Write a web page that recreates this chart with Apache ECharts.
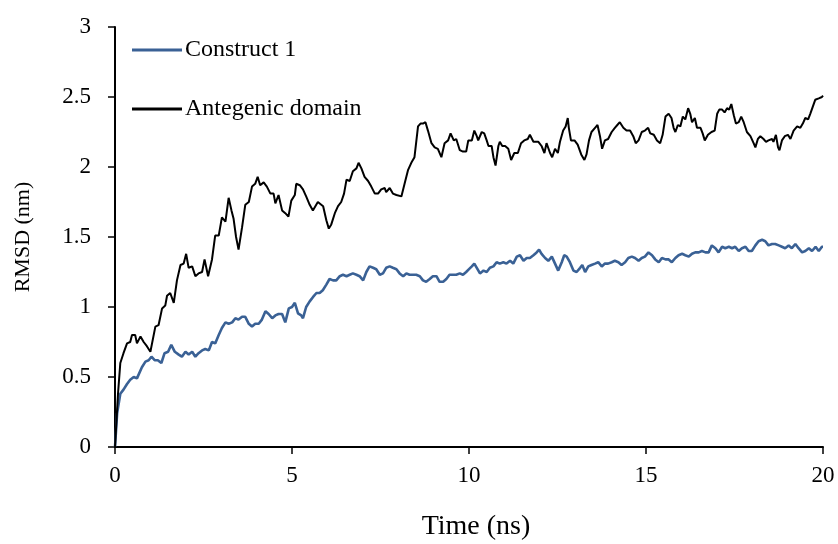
<!DOCTYPE html>
<html>
<head>
<meta charset="utf-8">
<script src="https://cdn.jsdelivr.net/npm/echarts@6/dist/echarts.min.js"></script>
<style>
html,body{margin:0;padding:0;background:#fff;}
#chart{width:838px;height:544px;}
</style>
</head>
<body>
<div id="chart"></div>
<script>
var seriesNames = ['Construct 1', 'Antegenic domain'];

var constructTime = [0,0.06,0.15,0.24,0.34,0.43,0.53,0.62,0.67,0.76,0.86,0.95,1.03,1.12,1.21,1.31,1.40,1.50,1.59,1.69,1.80,1.89,1.99,2.08,2.18,2.27,2.36,2.46,2.55,2.65,2.74,2.83,2.93,3.02,3.12,3.21,3.31,3.40,3.49,3.59,3.68,3.78,3.87,3.96,4.06,4.15,4.25,4.34,4.44,4.53,4.62,4.72,4.81,4.91,5.00,5.08,5.17,5.26,5.31,5.40,5.50,5.59,5.69,5.78,5.87,5.97,6.06,6.16,6.25,6.35,6.44,6.54,6.63,6.72,6.82,6.91,7.01,7.10,7.19,7.29,7.38,7.48,7.57,7.66,7.76,7.85,7.95,8.04,8.14,8.23,8.32,8.42,8.51,8.61,8.70,8.79,8.89,8.98,9.08,9.17,9.27,9.36,9.45,9.55,9.64,9.74,9.83,9.92,10.00,10.08,10.15,10.22,10.31,10.41,10.50,10.59,10.69,10.78,10.87,10.97,11.06,11.16,11.25,11.35,11.44,11.54,11.63,11.72,11.82,11.91,11.98,12.05,12.15,12.24,12.34,12.43,12.52,12.62,12.69,12.76,12.85,12.95,13.04,13.14,13.20,13.28,13.37,13.46,13.56,13.65,13.75,13.84,13.93,14.03,14.12,14.22,14.31,14.41,14.50,14.60,14.69,14.79,14.88,14.97,15.07,15.17,15.26,15.36,15.45,15.55,15.64,15.73,15.83,15.92,16.02,16.11,16.21,16.30,16.39,16.49,16.58,16.68,16.77,16.86,16.96,17.05,17.15,17.24,17.34,17.43,17.52,17.62,17.71,17.81,17.90,17.99,18.09,18.18,18.28,18.37,18.46,18.56,18.65,18.75,18.84,18.93,19.03,19.12,19.22,19.31,19.41,19.50,19.60,19.69,19.79,19.88,19.97,20.00];
var constructRmsd = [0,0.24,0.38,0.41,0.45,0.48,0.50,0.49,0.50,0.57,0.61,0.62,0.645,0.62,0.62,0.60,0.67,0.68,0.73,0.68,0.66,0.645,0.68,0.66,0.68,0.645,0.67,0.69,0.70,0.69,0.75,0.74,0.80,0.85,0.89,0.88,0.89,0.92,0.91,0.93,0.93,0.88,0.86,0.88,0.88,0.91,0.97,0.95,0.92,0.94,0.95,0.95,0.89,0.99,1.00,1.03,0.955,0.94,0.92,1.00,1.04,1.07,1.10,1.10,1.12,1.16,1.20,1.19,1.19,1.22,1.23,1.22,1.23,1.24,1.23,1.22,1.19,1.25,1.29,1.28,1.27,1.23,1.24,1.28,1.29,1.28,1.27,1.24,1.22,1.24,1.23,1.23,1.23,1.22,1.19,1.18,1.20,1.22,1.22,1.18,1.18,1.20,1.23,1.23,1.23,1.24,1.23,1.25,1.27,1.29,1.31,1.28,1.24,1.26,1.25,1.28,1.29,1.32,1.31,1.32,1.31,1.33,1.31,1.36,1.37,1.33,1.35,1.35,1.37,1.39,1.41,1.38,1.35,1.33,1.36,1.31,1.26,1.32,1.37,1.36,1.32,1.26,1.25,1.28,1.30,1.25,1.29,1.30,1.31,1.32,1.29,1.31,1.31,1.32,1.33,1.32,1.30,1.32,1.35,1.36,1.35,1.33,1.35,1.36,1.39,1.37,1.34,1.32,1.35,1.34,1.34,1.32,1.35,1.37,1.38,1.37,1.36,1.38,1.39,1.39,1.40,1.39,1.39,1.44,1.42,1.39,1.43,1.42,1.43,1.42,1.43,1.40,1.42,1.43,1.40,1.40,1.44,1.47,1.48,1.47,1.44,1.45,1.45,1.44,1.43,1.42,1.44,1.42,1.45,1.42,1.39,1.40,1.42,1.40,1.43,1.40,1.43,1.43];

var antigenTime = [0,0.085,0.15,0.24,0.34,0.43,0.48,0.57,0.62,0.72,0.81,0.90,1.00,1.05,1.14,1.23,1.33,1.42,1.47,1.56,1.66,1.75,1.85,1.94,2.01,2.08,2.18,2.27,2.36,2.46,2.53,2.63,2.74,2.83,2.93,3.02,3.12,3.21,3.29,3.35,3.42,3.49,3.59,3.68,3.78,3.87,3.96,4.03,4.10,4.20,4.29,4.39,4.48,4.53,4.62,4.72,4.81,4.90,4.98,5.08,5.12,5.22,5.31,5.40,5.50,5.59,5.64,5.73,5.78,5.88,5.97,6.04,6.11,6.21,6.30,6.39,6.47,6.54,6.63,6.72,6.82,6.88,6.96,7.05,7.15,7.24,7.34,7.43,7.52,7.62,7.66,7.76,7.85,7.95,8.09,8.18,8.28,8.37,8.46,8.56,8.63,8.70,8.77,8.84,8.94,9.03,9.12,9.22,9.31,9.41,9.48,9.57,9.64,9.74,9.83,9.92,9.98,10.08,10.15,10.22,10.26,10.36,10.43,10.50,10.55,10.64,10.69,10.75,10.83,10.87,10.94,11.02,11.11,11.19,11.28,11.38,11.47,11.56,11.66,11.72,11.82,11.86,11.96,12.05,12.13,12.19,12.29,12.35,12.43,12.51,12.57,12.66,12.73,12.79,12.82,12.88,12.98,13.07,13.17,13.26,13.32,13.39,13.46,13.56,13.63,13.70,13.76,13.84,13.93,14.03,14.12,14.19,14.26,14.36,14.45,14.55,14.64,14.71,14.79,14.88,14.97,15.06,15.12,15.22,15.31,15.40,15.47,15.55,15.64,15.72,15.78,15.83,15.90,15.97,16.04,16.11,16.19,16.25,16.30,16.38,16.44,16.54,16.60,16.66,16.75,16.85,16.94,17.01,17.07,17.15,17.22,17.29,17.35,17.41,17.48,17.54,17.62,17.69,17.76,17.85,17.95,18.04,18.09,18.16,18.23,18.32,18.39,18.46,18.56,18.60,18.67,18.73,18.77,18.84,18.92,19.01,19.08,19.17,19.27,19.36,19.43,19.50,19.58,19.64,19.71,19.78,19.88,19.97,20.00];
var antigenRmsd = [0,0.38,0.60,0.67,0.74,0.75,0.80,0.80,0.74,0.79,0.75,0.72,0.68,0.67,0.86,0.87,0.99,1.01,1.08,1.10,1.03,1.19,1.30,1.31,1.38,1.28,1.29,1.22,1.24,1.25,1.34,1.22,1.34,1.51,1.51,1.64,1.61,1.78,1.69,1.63,1.50,1.41,1.57,1.73,1.75,1.86,1.88,1.93,1.87,1.89,1.86,1.81,1.81,1.74,1.80,1.69,1.67,1.645,1.76,1.80,1.88,1.87,1.84,1.79,1.73,1.69,1.68,1.75,1.76,1.72,1.62,1.56,1.59,1.67,1.72,1.75,1.81,1.91,1.90,1.97,1.99,2.03,1.99,1.93,1.90,1.86,1.81,1.81,1.84,1.85,1.82,1.85,1.81,1.80,1.79,1.88,1.98,2.03,2.07,2.29,2.31,2.31,2.32,2.26,2.17,2.14,2.13,2.07,2.17,2.19,2.24,2.19,2.20,2.12,2.11,2.11,2.19,2.19,2.26,2.22,2.19,2.25,2.24,2.19,2.15,2.15,2.07,2.01,2.15,2.18,2.15,2.15,2.13,2.05,2.10,2.10,2.17,2.19,2.20,2.23,2.18,2.17,2.18,2.15,2.10,2.17,2.10,2.07,2.13,2.10,2.18,2.26,2.29,2.35,2.28,2.19,2.19,2.16,2.09,2.05,2.09,2.19,2.25,2.28,2.30,2.22,2.13,2.19,2.20,2.25,2.28,2.30,2.32,2.28,2.26,2.26,2.22,2.17,2.19,2.25,2.26,2.28,2.24,2.23,2.19,2.17,2.23,2.36,2.38,2.35,2.28,2.25,2.30,2.29,2.36,2.34,2.42,2.38,2.32,2.35,2.28,2.28,2.24,2.19,2.23,2.25,2.26,2.38,2.41,2.41,2.39,2.42,2.41,2.45,2.37,2.31,2.32,2.36,2.32,2.25,2.22,2.17,2.14,2.20,2.22,2.20,2.18,2.19,2.20,2.18,2.23,2.14,2.12,2.19,2.22,2.23,2.20,2.26,2.29,2.28,2.31,2.35,2.34,2.38,2.43,2.48,2.49,2.50,2.51];

var xTicks = [0, 5, 10, 15, 20];
var yTicks = [0, 0.5, 1, 1.5, 2, 2.5, 3];

function pairs(xs, ys) {
  var out = [];
  for (var i = 0; i < xs.length; i++) out.push([xs[i], ys[i]]);
  return out;
}

var FONT = '"Liberation Serif", "Times New Roman", serif';
var chart = echarts.init(document.getElementById('chart'), null, {renderer: 'canvas'});
chart.setOption({
  animation: false,
  backgroundColor: '#ffffff',
  textStyle: {fontFamily: FONT, color: '#000'},
  grid: {left: 115, right: 15, top: 27, bottom: 97, containLabel: false, outerBoundsMode: 'none'},
  legend: {
    orient: 'vertical',
    left: 132,
    top: 38,
    padding: 0,
    itemWidth: 50,
    itemHeight: 3,
    itemGap: 35,
    icon: 'rect',
    textStyle: {fontFamily: FONT, fontSize: 24, color: '#000', lineHeight: 24, padding: [0, 0, 0, -2]},
    data: seriesNames
  },
  xAxis: {
    type: 'value',
    min: xTicks[0],
    max: xTicks[xTicks.length - 1],
    interval: xTicks[1] - xTicks[0],
    name: 'Time (ns)',
    nameLocation: 'middle',
    nameGap: 66,
    nameTextStyle: {fontFamily: FONT, fontSize: 28, color: '#000', padding: [0, 0, 0, 14]},
    axisLine: {show: true, lineStyle: {color: '#000', width: 2}},
    axisTick: {show: true, length: 7, lineStyle: {color: '#000', width: 1.5}},
    axisLabel: {fontFamily: FONT, fontSize: 23, color: '#000', margin: 17},
    splitLine: {show: false}
  },
  yAxis: {
    type: 'value',
    min: yTicks[0],
    max: yTicks[yTicks.length - 1],
    interval: yTicks[1] - yTicks[0],
    name: 'RMSD (nm)',
    nameLocation: 'middle',
    nameRotate: 90,
    nameGap: 81,
    nameTextStyle: {fontFamily: FONT, fontSize: 22, color: '#000'},
    axisLine: {show: true, lineStyle: {color: '#000', width: 2}},
    axisTick: {show: true, length: 7, lineStyle: {color: '#000', width: 1.5}},
    axisLabel: {fontFamily: FONT, fontSize: 23, color: '#000', margin: 24},
    splitLine: {show: false}
  },
  series: [
    {
      name: seriesNames[0],
      type: 'line',
      data: pairs(constructTime, constructRmsd),
      showSymbol: false,
      symbol: 'none',
      smooth: false,
      color: '#3a6195',
      lineStyle: {color: '#3a6195', width: 2.6},
      z: 2
    },
    {
      name: seriesNames[1],
      type: 'line',
      data: pairs(antigenTime, antigenRmsd),
      showSymbol: false,
      symbol: 'none',
      smooth: false,
      color: '#000000',
      lineStyle: {color: '#000000', width: 2},
      z: 3
    }
  ]
});
</script>
</body>
</html>
